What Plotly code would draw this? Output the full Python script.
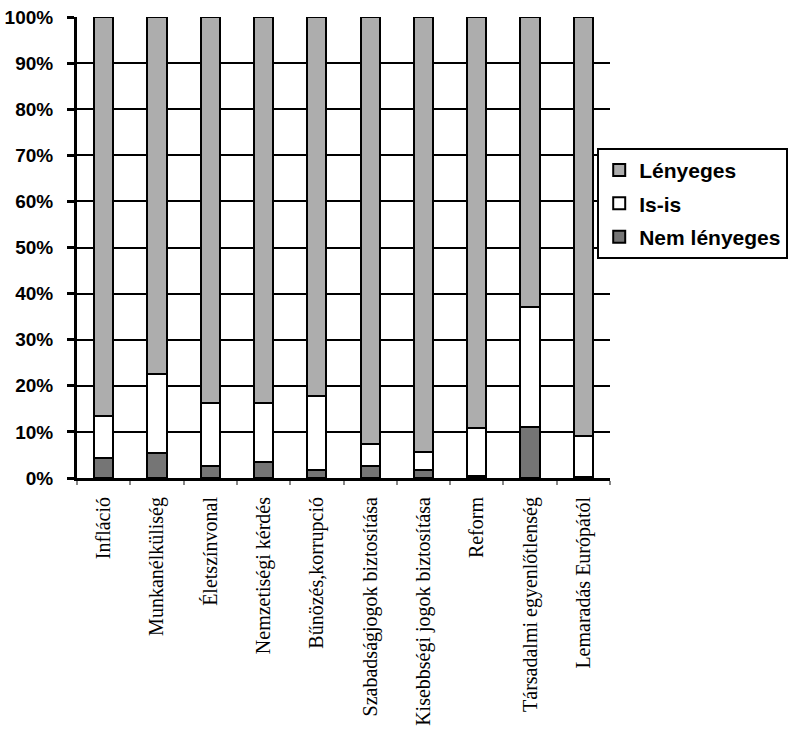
import plotly.graph_objects as go

categories = ["Infláció", "Munkanélküliség", "Életszínvonal", "Nemzetiségi kérdés",
              "Bűnözés,korrupció", "Szabadságjogok biztosítása", "Kisebbségi jogok biztosítása",
              "Reform", "Társadalmi egyenlőtlenség", "Lemaradás Európától"]
nem_lenyeges = [4.3, 5.4, 2.6, 3.4, 1.7, 2.6, 1.7, 0.4, 11.1, 0.3]
is_is = [9.2, 17.1, 13.6, 12.8, 16.0, 4.7, 3.9, 10.4, 26.1, 8.9]
lenyeges = [100 - a - b for a, b in zip(nem_lenyeges, is_is)]

# stacked bottom to top; legend rank puts "Lényeges" first
series = [
    ("Nem lényeges", nem_lenyeges, "#757575", 3),
    ("Is-is", is_is, "#ffffff", 2),
    ("Lényeges", lenyeges, "#adadad", 1),
]

fig = go.Figure()
for name, vals, color, rank in series:
    fig.add_trace(go.Bar(
        x=categories, y=vals, name=name, legendgroup=name, legendrank=rank,
        marker=dict(color=color, line=dict(color="black", width=2)),
    ))

fig.update_layout(
    barmode="stack",
    bargap=0.64,
    width=792, height=739,
    margin=dict(l=77, r=182, t=17, b=261, autoexpand=False),
    plot_bgcolor="white", paper_bgcolor="white",
    showlegend=True,
    legend=dict(
        x=0.976, y=0.716, xanchor="left", yanchor="top",
        traceorder="grouped", tracegroupgap=3,
        bordercolor="black", borderwidth=2, bgcolor="white",
        itemwidth=30,
        font=dict(family="Liberation Sans, Arial", size=21, color="black", weight="bold"),
    ),
    xaxis=dict(
        type="category", tickangle=-90, tickson="boundaries",
        ticks="outside", ticklen=4, tickwidth=2, tickcolor="#888888",
        showline=True, linecolor="black", linewidth=3,
        showgrid=False,
        tickfont=dict(family="Liberation Serif, Times New Roman", size=20, color="black"),
        ticklabelstandoff=8,
    ),
    yaxis=dict(
        range=[0, 100], dtick=10, ticksuffix="%",
        ticks="outside", ticklen=7, tickwidth=3, tickcolor="black",
        showline=True, linecolor="black", linewidth=3,
        showgrid=True, gridcolor="black", gridwidth=2,
        zeroline=False,
        tickfont=dict(family="Liberation Sans, Arial", size=19, color="black", weight="bold"),
        ticklabelstandoff=10,
    ),
)

fig.write_html("out.html")
